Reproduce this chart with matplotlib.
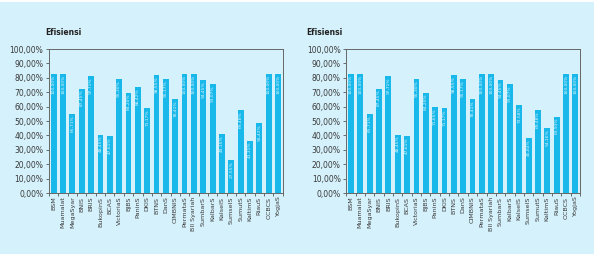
import matplotlib
matplotlib.use("Agg")
import matplotlib.pyplot as plt
import numpy as np

banks = ["BSM", "Muamalat", "MegaSyar", "BNIS", "BRIS", "BukopinS", "BCAS", "VictoriaS",
         "BJBS", "PaninS", "DKIS", "BTNS", "DanS", "CIMBNIS", "PermataS", "BII Syariah",
         "SumbarS", "KalbarS", "KalselS", "SumselS", "SumutS", "KaltimS", "RiauS", "OCBCS", "YogjaS"]

left_heights = [82.9, 82.9, 54.7, 72.5, 81.0, 40.5, 39.6, 79.0, 69.8, 73.3, 59.0, 81.7, 78.9,
                65.0, 82.9, 82.9, 78.3, 75.5, 41.0, 23.0, 57.6, 36.4, 48.4, 82.9, 82.9]
left_labels = ["100,00%", "100,00%", "65,71%", "87,45%", "97,71%", "48,45%", "47,61%", "95,30%",
               "84,20%", "88,42%", "71,17%", "98,55%", "95,17%", "78,41%", "100,00%", "100,00%",
               "94,45%", "91,07%", "49,15%", "27,55%", "69,48%", "43,31%", "58,43%", "100,00%", "100,00%"]

right_heights = [82.9, 82.9, 54.7, 72.5, 81.0, 40.5, 39.6, 79.0, 69.8, 59.4, 59.0, 81.7, 78.9,
                 65.0, 82.9, 82.9, 78.3, 75.5, 61.0, 38.0, 57.6, 44.9, 53.0, 82.9, 82.9]
right_labels = ["100,00%", "100,00%", "65,71%", "87,45%", "97,71%", "48,45%", "47,61%", "95,30%",
                "84,20%", "71,65%", "71,17%", "98,55%", "95,17%", "78,41%", "100,00%", "100,00%",
                "94,45%", "91,07%", "73,58%", "45,84%", "69,48%", "54,16%", "63,93%", "100,00%", "100,00%"]

yticks = [0, 10, 20, 30, 40, 50, 60, 70, 80, 90, 100]
ytick_labels = ["0,00%", "10,00%", "20,00%", "30,00%", "40,00%", "50,00%",
                "60,00%", "70,00%", "80,00%", "90,00%", "100,00%"]
title = "Efisiensi"

BG = "#d5f1fb"
BAR = "#19b8ea"
TXT = "#3a3a3a"

fig = plt.figure(figsize=(5.94, 2.54), dpi=100)
fig.patch.set_facecolor(BG)
# thin white strip at very top
fig.patches.append(plt.Rectangle((0, 0.992), 1, 0.008, transform=fig.transFigure,
                                 facecolor="white", edgecolor="none", zorder=0))

panels = [
    (0.0825, left_heights, left_labels, 0.076),
    (0.583, right_heights, right_labels, 0.516),
]

for left, heights, labels, title_x in panels:
    ax = fig.add_axes([left, 0.240, 0.3935, 0.567])
    ax.set_facecolor(BG)
    x = np.arange(len(banks))
    ax.bar(x, heights, width=0.62, color=BAR, zorder=2)
    for xi, h, lab in zip(x, heights, labels):
        ax.text(xi, h - 0.8, lab, rotation=90, ha="center", va="top",
                fontsize=3.2, color="white", alpha=0.85, zorder=3)
    ax.set_xlim(-0.5, len(banks) - 0.5)
    ax.set_ylim(0, 100)
    ax.set_yticks(yticks)
    ax.set_yticklabels(ytick_labels, fontsize=5.5, color=TXT)
    ax.set_xticks(x)
    ax.set_xticklabels(banks, rotation=90, fontsize=4.6, color=TXT)
    ax.set_xticks(np.arange(-0.5, len(banks), 1), minor=True)
    ax.tick_params(axis="x", which="major", length=0, pad=2.5)
    ax.tick_params(axis="x", which="minor", length=2.5, width=0.6, color="#555555", direction="out")
    ax.tick_params(axis="y", length=2.5, width=0.6, color="#555555", pad=1.5)
    for s in ax.spines.values():
        s.set_color("#666666")
        s.set_linewidth(0.7)
    fig.text(title_x, 0.873, title, fontsize=5.5, fontweight="bold", color="#222222",
             ha="left", va="center")

fig.savefig("out.png", dpi=100, facecolor=BG)
